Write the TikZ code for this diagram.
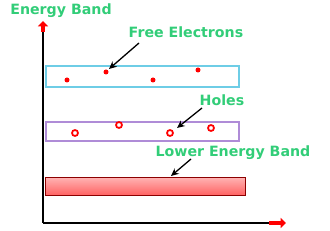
\documentclass[tikz,border=0pt]{standalone}
\usepackage{fontspec}
\setmainfont{DejaVu Sans}
\usetikzlibrary{arrows.meta,positioning}
\definecolor{labelgreen}{RGB}{50,205,120}
\definecolor{bandcyan}{RGB}{110,205,230}
\definecolor{bandpurple}{RGB}{175,140,215}

\begin{document}
\begin{tikzpicture}[
    x=0.03cm, y=-0.03cm,
    every node/.style={font=\bfseries\fontsize{12.1}{14}\selectfont},
    label/.style={text=labelgreen, inner sep=0pt},
    band/.style={draw, line width=1.6pt, minimum width=193*0.03cm, minimum height=21*0.03cm, anchor=north west, inner sep=0pt},
    electron/.style={circle, fill=red, inner sep=0pt, minimum size=5*0.03cm},
    hole/.style={circle, draw=red, line width=1.5pt, inner sep=0pt, minimum size=6*0.03cm},
    pointer/.style={-{Stealth[length=2.3mm, width=2.1mm]}, line width=1.1pt},
    axis/.style={line width=1.3pt},
    axishead/.style={red, line width=2.6pt, -{Triangle[length=1.6mm, width=3mm]}}
]
\useasboundingbox (0,0) rectangle (330,231);

% axes
\coordinate (origin) at (43,223);
\coordinate (ytop) at (43,21);
\coordinate (xend) at (286,223);
\coordinate (yred) at (43,32);
\coordinate (xred) at (269,223);
\draw[axis] (origin) -- (yred);
\draw[axis] (origin) -- (xred);
\draw[axishead] (yred) -- (ytop);
\draw[axishead] (xred) -- (xend);
\node[label] (axislabel) at (61,11) {Energy Band};

% conduction band with free electrons
\node[band, draw=bandcyan] (upper) at (45,65) {};
\node[electron] (e1) at (67,80) {};
\node[electron] (e2) at (106,72) {};
\node[electron] (e3) at (153,80) {};
\node[electron] (e4) at (198,70) {};
\node[label] (freelabel) at (186,32) {Free Electrons};
\coordinate (freetip) at (109,69);
\draw[pointer] (139,43) -- (freetip);

% band with holes
\node[band, draw=bandpurple, minimum height=19*0.03cm] (middle) at (45,121) {};
\node[hole] (h1) at (75,133) {};
\node[hole] (h2) at (119,125) {};
\node[hole] (h3) at (170,133) {};
\node[hole] (h4) at (211,128) {};
\node[label] (holelabel) at (222,100) {Holes};
\coordinate (holetip) at (177,128);
\draw[pointer] (202,108) -- (holetip);

% lower energy band
\node[anchor=north west, minimum width=200*0.03cm, minimum height=18*0.03cm, inner sep=0pt,
      draw=red!55!black, line width=0.8pt, top color=red!30, bottom color=red!62] (lower) at (45,177) {};
\node[label] (lowerlabel) at (233,153) {Lower Energy Band};
\coordinate (lowertip) at (171,176);
\draw[pointer] (191,159) -- (lowertip);
\end{tikzpicture}
\end{document}
